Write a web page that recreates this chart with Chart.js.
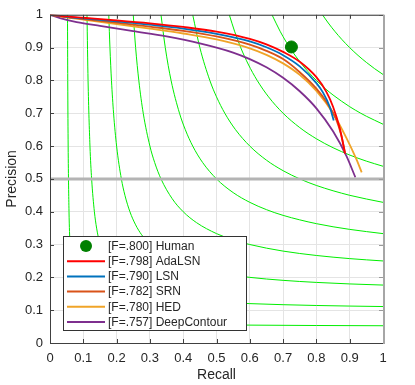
<!DOCTYPE html>
<html>
<head>
<meta charset="utf-8">
<script src="https://cdn.jsdelivr.net/npm/chart.js@4"></script>
<style>
  html, body { margin: 0; background: #fff; }
  #wrap { width: 415px; height: 385px; }
</style>
</head>
<body>
<div id="wrap"><canvas id="pr"></canvas></div>
<script>
const TICK_VALUES = [0, 0.1, 0.2, 0.3, 0.4, 0.5, 0.6, 0.7, 0.8, 0.9, 1];
const TICK_LABELS = ['0', '0.1', '0.2', '0.3', '0.4', '0.5', '0.6', '0.7', '0.8', '0.9', '1'];

const METHOD_LABELS = ['[F=.798] AdaLSN', '[F=.790] LSN', '[F=.782] SRN', '[F=.780] HED', '[F=.757] DeepContour'];
const METHOD_COLORS = ['#ff0000', '#0072bd', '#d95319', '#f0a428', '#7e2f8e'];

const HUMAN_LABEL = '[F=.800] Human';
const HUMAN_POINT = [0.725, 0.902];

const ADALSN_R = [0, 0.05, 0.1, 0.2, 0.3, 0.4, 0.5, 0.6, 0.65, 0.7, 0.75, 0.8, 0.83, 0.85, 0.87, 0.886];
const ADALSN_P = [1, 0.995, 0.991, 0.983, 0.974, 0.963, 0.949, 0.927, 0.91, 0.887, 0.857, 0.81, 0.765, 0.72, 0.655, 0.577];

const LSN_R = [0, 0.05, 0.1, 0.2, 0.3, 0.4, 0.5, 0.6, 0.65, 0.7, 0.75, 0.8, 0.82, 0.84, 0.852];
const LSN_P = [1, 0.994, 0.989, 0.98, 0.97, 0.958, 0.942, 0.919, 0.901, 0.877, 0.843, 0.792, 0.763, 0.72, 0.678];

const SRN_R = [0, 0.05, 0.1, 0.2, 0.3, 0.4, 0.5, 0.6, 0.65, 0.7, 0.75, 0.8, 0.83, 0.86, 0.875, 0.886];
const SRN_P = [1, 0.993, 0.987, 0.976, 0.964, 0.951, 0.934, 0.909, 0.89, 0.865, 0.825, 0.775, 0.735, 0.68, 0.632, 0.58];

const HED_R = [0, 0.05, 0.1, 0.2, 0.3, 0.4, 0.5, 0.6, 0.65, 0.7, 0.75, 0.8, 0.85, 0.89, 0.92, 0.936];
const HED_P = [1, 0.992, 0.985, 0.972, 0.958, 0.943, 0.925, 0.898, 0.878, 0.852, 0.817, 0.768, 0.7, 0.625, 0.56, 0.52];

const DEEPC_R = [0, 0.03, 0.08, 0.15, 0.25, 0.35, 0.45, 0.55, 0.6, 0.65, 0.7, 0.75, 0.8, 0.85, 0.89, 0.917];
const DEEPC_P = [1, 0.99, 0.978, 0.966, 0.95, 0.934, 0.913, 0.885, 0.865, 0.84, 0.808, 0.767, 0.715, 0.645, 0.57, 0.505];

// iso-F contours, [recall, precision]
const ISO_F1 = [[0.0526,1],[0.0533,0.8],[0.0545,0.6],[0.0571,0.4],[0.06,0.3],[0.0625,0.25],[0.0667,0.2],[0.07,0.175],[0.075,0.15],[0.0794,0.135],[0.0857,0.12],[0.0917,0.11],[0.1,0.1],[0.11,0.0917],[0.12,0.0857],[0.135,0.0794],[0.15,0.075],[0.175,0.07],[0.2,0.0667],[0.25,0.0625],[0.3,0.06],[0.4,0.0571],[0.6,0.0545],[0.8,0.0533],[1,0.0526]];
const ISO_F2 = [[0.1111,1],[0.1143,0.8],[0.12,0.6],[0.125,0.5],[0.1333,0.4],[0.14,0.35],[0.15,0.3],[0.1571,0.275],[0.1667,0.25],[0.1833,0.22],[0.2,0.2],[0.22,0.1833],[0.25,0.1667],[0.275,0.1571],[0.3,0.15],[0.35,0.14],[0.4,0.1333],[0.5,0.125],[0.6,0.12],[0.8,0.1143],[1,0.1111]];
const ISO_F3 = [[0.1765,1],[0.18,0.9],[0.1846,0.8],[0.1909,0.7],[0.2,0.6],[0.2143,0.5],[0.225,0.45],[0.24,0.4],[0.2571,0.36],[0.275,0.33],[0.3,0.3],[0.33,0.275],[0.36,0.2571],[0.4,0.24],[0.45,0.225],[0.5,0.2143],[0.6,0.2],[0.7,0.1909],[0.8,0.1846],[0.9,0.18],[1,0.1765]];
const ISO_F4 = [[0.25,1],[0.2571,0.9],[0.2667,0.8],[0.28,0.7],[0.3,0.6],[0.3143,0.55],[0.3333,0.5],[0.3667,0.44],[0.4,0.4],[0.44,0.3667],[0.5,0.3333],[0.55,0.3143],[0.6,0.3],[0.7,0.28],[0.8,0.2667],[0.9,0.2571],[1,0.25]];
const ISO_F5 = [[0.3333,1],[0.3462,0.9],[0.3636,0.8],[0.3889,0.7],[0.4063,0.65],[0.4286,0.6],[0.4583,0.55],[0.5,0.5],[0.55,0.4583],[0.6,0.4286],[0.65,0.4063],[0.7,0.3889],[0.8,0.3636],[0.9,0.3462],[1,0.3333]];
const ISO_F6 = [[0.4286,1],[0.45,0.9],[0.48,0.8],[0.5,0.75],[0.525,0.7],[0.5571,0.65],[0.6,0.6],[0.65,0.5571],[0.7,0.525],[0.75,0.5],[0.8,0.48],[0.9,0.45],[1,0.4286]];
const ISO_F7 = [[0.5385,1],[0.5542,0.95],[0.5727,0.9],[0.595,0.85],[0.6222,0.8],[0.6563,0.75],[0.7,0.7],[0.75,0.6563],[0.8,0.6222],[0.85,0.595],[0.9,0.5727],[0.95,0.5542],[1,0.5385]];
const ISO_F8 = [[0.6667,1],[0.6909,0.95],[0.7,0.9333],[0.72,0.9],[0.7556,0.85],[0.775,0.8267],[0.8,0.8],[0.8267,0.775],[0.85,0.7556],[0.9,0.72],[0.9333,0.7],[0.95,0.6909],[1,0.6667]];
const ISO_F9 = [[0.8182,1],[0.8357,0.975],[0.855,0.95],[0.8763,0.925],[0.9,0.9],[0.925,0.8763],[0.95,0.855],[0.975,0.8357],[1,0.8182]];
const ISO_CURVES = [ISO_F1, ISO_F2, ISO_F3, ISO_F4, ISO_F5, ISO_F6, ISO_F7, ISO_F8, ISO_F9];

const CHANCE_LINE = [[0, 0.5], [1, 0.5]];

const FONT = 'Liberation Sans, Arial, Helvetica, sans-serif';
const TEXT_COLOR = '#262626';

function toPts(rs, ps) {
    return rs.map((r, i) => ({ x: r, y: ps[i] }));
}
function pairPts(arr) {
    return arr.map(p => ({ x: p[0], y: p[1] }));
}

const methodData = [
    toPts(ADALSN_R, ADALSN_P),
    toPts(LSN_R, LSN_P),
    toPts(SRN_R, SRN_P),
    toPts(HED_R, HED_P),
    toPts(DEEPC_R, DEEPC_P)
];

const datasets = [];
datasets.push({
    label: HUMAN_LABEL,
    data: [{ x: HUMAN_POINT[0], y: HUMAN_POINT[1] }],
    showLine: false,
    pointRadius: 6,
    pointBackgroundColor: '#008000',
    pointBorderColor: '#008000',
    inLegend: true,
    marker: 'dot'
});
methodData.forEach((d, i) => {
    datasets.push({
        label: METHOD_LABELS[i],
        data: d,
        showLine: true,
        borderColor: METHOD_COLORS[i],
        borderWidth: 1.8,
        pointRadius: 0,
        cubicInterpolationMode: 'monotone',
        inLegend: true
    });
});
datasets.push({
    label: 'P=0.5',
    data: pairPts(CHANCE_LINE),
    showLine: true,
    borderColor: '#b4b4b4',
    borderWidth: 3,
    pointRadius: 0
});
ISO_CURVES.forEach((c, i) => {
    datasets.push({
        label: 'F=' + (i + 1) / 10,
        data: pairPts(c),
        showLine: true,
        borderColor: '#00ee00',
        borderWidth: 1,
        pointRadius: 0,
        cubicInterpolationMode: 'monotone'
    });
});

// frame with inward ticks
const framePlugin = {
    id: 'frame',
    afterDatasetsDraw(chart) {
        const { ctx, chartArea: a, scales: { x, y } } = chart;
        ctx.save();
        ctx.lineWidth = 1;
        ctx.strokeStyle = '#404040';
        ctx.beginPath();
        TICK_VALUES.forEach(v => {
            const px = Math.round(x.getPixelForValue(v)) + 0.5;
            const py = Math.round(y.getPixelForValue(v)) + 0.5;
            ctx.moveTo(px, a.bottom); ctx.lineTo(px, a.bottom - 4);
            ctx.moveTo(px, a.top); ctx.lineTo(px, a.top + 4);
            ctx.moveTo(a.left, py); ctx.lineTo(a.left + 4, py);
        });
        ctx.stroke();
        ctx.strokeStyle = '#9a9a9a';
        ctx.beginPath();
        TICK_VALUES.forEach(v => {
            const py = Math.round(y.getPixelForValue(v)) + 0.5;
            ctx.moveTo(a.right, py); ctx.lineTo(a.right - 4, py);
        });
        ctx.stroke();

        ctx.strokeStyle = '#404040';
        ctx.beginPath();
        ctx.moveTo(a.left + 0.5, a.top + 0.5);
        ctx.lineTo(a.left + 0.5, a.bottom + 0.5);
        ctx.lineTo(a.right, a.bottom + 0.5);
        ctx.moveTo(a.left, a.top + 0.5);
        ctx.lineTo(a.right, a.top + 0.5);
        ctx.stroke();
        ctx.strokeStyle = '#a6a6a6';
        ctx.lineWidth = 2;
        ctx.beginPath();
        ctx.moveTo(a.right + 1, a.top);
        ctx.lineTo(a.right + 1, a.bottom + 1);
        ctx.stroke();
        ctx.restore();
    }
};

// legend box in lower left
const legendPlugin = {
    id: 'boxLegend',
    afterDraw(chart) {
        const { ctx } = chart;
        const items = chart.data.datasets.filter(d => d.inLegend);
        const left = 63.5, top = 236.5, w = 183, h = 94;
        ctx.save();
        ctx.fillStyle = '#ffffff';
        ctx.fillRect(left, top, w, h);
        ctx.strokeStyle = '#333333';
        ctx.lineWidth = 1;
        ctx.strokeRect(left, top, w, h);
        ctx.font = '12px ' + FONT;
        ctx.textBaseline = 'middle';
        items.forEach((d, i) => {
            const cy = 246 + i * 15.2;
            if (d.marker === 'dot') {
                ctx.fillStyle = d.pointBackgroundColor;
                ctx.beginPath();
                ctx.arc(86, cy, 6, 0, Math.PI * 2);
                ctx.fill();
            } else {
                ctx.strokeStyle = d.borderColor;
                ctx.lineWidth = 2;
                ctx.beginPath();
                ctx.moveTo(67, cy);
                ctx.lineTo(105, cy);
                ctx.stroke();
            }
            ctx.fillStyle = TEXT_COLOR;
            ctx.fillText(d.label, 108, cy + 0.5);
        });
        ctx.restore();
    }
};

function setTicks(scale) {
    scale.ticks = TICK_VALUES.map(v => ({ value: v }));
}

new Chart(document.getElementById('pr'), {
    type: 'scatter',
    data: { datasets: datasets },
    options: {
        responsive: true,
        maintainAspectRatio: false,
        animation: false,
        devicePixelRatio: 1,
        layout: { padding: { left: 0, top: 10, right: 32, bottom: 0 } },
        plugins: {
            legend: { display: false },
            tooltip: { enabled: false }
        },
        scales: {
            x: {
                type: 'linear',
                min: 0, max: 1,
                afterBuildTicks: setTicks,
                afterFit: s => { s.height = 42; },
                grid: { color: '#e4e4e4', drawTicks: false },
                border: { display: false },
                ticks: {
                    padding: 8,
                    color: TEXT_COLOR,
                    font: { family: FONT, size: 13 },
                    callback: (v, i) => TICK_LABELS[i]
                },
                title: {
                    display: true,
                    text: 'Recall',
                    color: TEXT_COLOR,
                    font: { family: FONT, size: 14 },
                    padding: { top: 0, bottom: 1 }
                }
            },
            y: {
                type: 'linear',
                min: 0, max: 1,
                afterBuildTicks: setTicks,
                afterFit: s => { s.width = 50; },
                grid: { color: '#e4e4e4', drawTicks: false },
                border: { display: false },
                ticks: {
                    padding: 7,
                    color: TEXT_COLOR,
                    font: { family: FONT, size: 13 },
                    callback: (v, i) => TICK_LABELS[i]
                },
                title: {
                    display: true,
                    text: 'Precision',
                    color: TEXT_COLOR,
                    font: { family: FONT, size: 14 },
                    padding: { top: 4, bottom: 0 }
                }
            }
        }
    },
    plugins: [framePlugin, legendPlugin]
});
</script>
</body>
</html>
